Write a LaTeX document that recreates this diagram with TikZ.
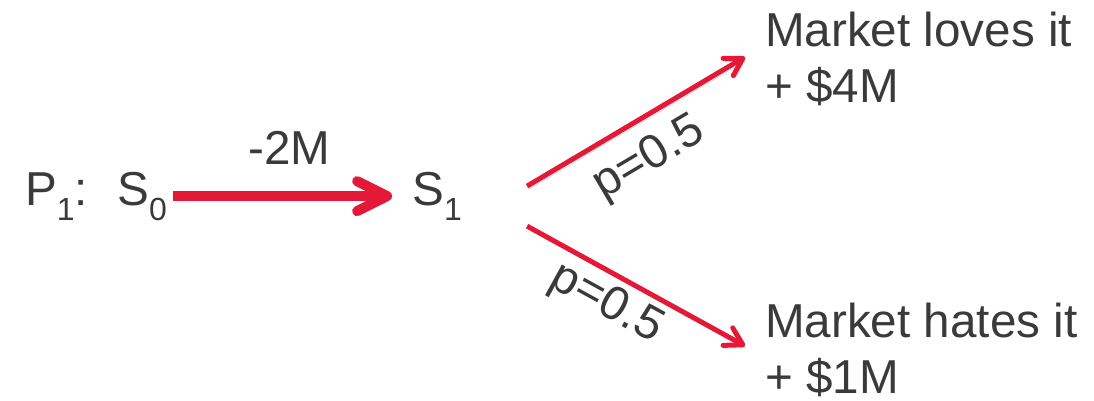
\documentclass[tikz,border=0pt]{standalone}
\usepackage{fontspec}
\setmainfont{Liberation Sans}
\usetikzlibrary{positioning,arrows.meta}
\definecolor{payred}{HTML}{E31937}
\definecolor{inkgray}{HTML}{3A3A3A}
\newcommand\lowsub[1]{\raisebox{-15pt}{\fontsize{32}{32}\selectfont #1}}
\tikzset{
    >=Stealth,
    label text/.style={text=inkgray, inner sep=0pt, font=\fontsize{47.6}{56}\selectfont},
    outcome/.style={label text, align=left, anchor=north west},
    soft shadow/.style={preaction={draw=black!22, transform canvas={shift={(2pt,-3pt)}}}},
    invest/.style={draw=payred, line width=10pt, soft shadow,
        -{Straight Barb[length=30pt, width=30pt, round]}},
    branch/.style={draw=payred, line width=5pt, soft shadow,
        -{Straight Barb[length=17pt, width=20pt, round]}},
    prob/.style={label text, sloped}
}
\begin{document}
\begin{tikzpicture}[x=1pt, y=1pt]
    \useasboundingbox (0,0) rectangle (1094,400);
    \node[label text, anchor=base west] (plan) at (25,195) {P\lowsub{1}:};
    \node[label text, right=29pt of plan] (s0) {S\lowsub{0}};
    \node[label text, right=245pt of s0] (s1) {S\lowsub{1}};
    \node[outcome] (love) at (765,388) {Market loves it\\+ \$4M};
    \node[outcome] (hate) at (765,97) {Market hates it\\+ \$1M};
    % branch ends
    \coordinate (upout) at ([shift={(65,10)}]s1.east);
    \coordinate (downout) at ([shift={(65,-30)}]s1.east);
    \coordinate (lovein) at ([shift={(-20,-45)}]love.north west);
    \coordinate (hatein) at ([shift={(-20,-43)}]hate.north west);
    \draw[invest, shorten <=6pt, shorten >=20pt] (s0) -- node[label text, above=27pt] {-2M} (s1);
    \draw[branch] (upout) -- node[prob, pos=0.47, below=15pt] {p=0.5} (lovein);
    \draw[branch] (downout) -- node[prob, pos=0.43, below=6pt] {p=0.5} (hatein);
\end{tikzpicture}
\end{document}
